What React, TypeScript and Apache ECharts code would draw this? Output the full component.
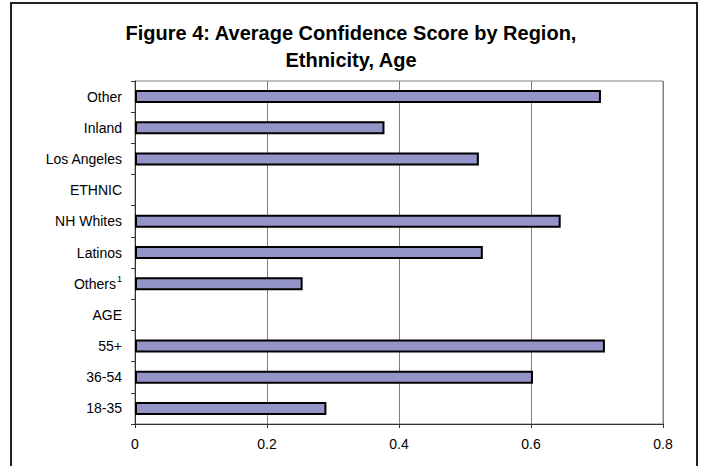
import React, { useEffect, useRef } from "react";
import * as echarts from "echarts";

const categories = [
  "Other",
  "Inland",
  "Los Angeles",
  "ETHNIC",
  "NH Whites",
  "Latinos",
  "Others¹",
  "AGE",
  "55+",
  "36-54",
  "18-35",
];
const values: (number | null)[] = [
  0.706, 0.378, 0.521, null, 0.645, 0.527, 0.254, null, 0.712, 0.603, 0.29,
];
const xTicks = [0, 0.2, 0.4, 0.6, 0.8];
const titleText = "Figure 4: Average Confidence Score by Region,\nEthnicity, Age";

export default function App() {
  const ref = useRef<HTMLDivElement>(null);
  useEffect(() => {
    if (!ref.current) return;
    const chart = echarts.init(ref.current, undefined, { renderer: "svg" });
    const font = "'Liberation Sans', Arial, sans-serif";
    chart.setOption({
      animation: false,
      backgroundColor: "#ffffff",
      textStyle: { fontFamily: font },
      title: {
        text: titleText,
        left: "center",
        top: 14,
        textStyle: {
          fontFamily: font,
          fontSize: 20,
          fontWeight: "bold",
          color: "#000",
          lineHeight: 27,
        },
      },
      graphic: [
        {
          type: "rect",
          shape: { x: 11, y: 3, width: 686, height: 470 },
          style: { fill: "none", stroke: "#222", lineWidth: 2 },
          silent: true,
        },
      ],
      grid: {
        left: 135,
        right: 39,
        top: 81,
        bottom: 42,
        show: true,
        borderColor: "#808080",
        borderWidth: 1,
        backgroundColor: "transparent",
      },
      xAxis: {
        type: "value",
        min: xTicks[0],
        max: xTicks[xTicks.length - 1],
        interval: 0.2,
        axisLine: { show: true, lineStyle: { color: "#333", width: 1 } },
        axisTick: { show: true, length: 4, lineStyle: { color: "#333" } },
        splitLine: { show: true, lineStyle: { color: "#808080", width: 1 } },
        axisLabel: {
          color: "#000",
          fontSize: 14,
          fontFamily: font,
          margin: 13,
          formatter: (v: number) => String(Math.round(v * 10) / 10),
        },
      },
      yAxis: {
        type: "category",
        data: categories,
        inverse: true,
        axisLine: { show: true, lineStyle: { color: "#333", width: 1 } },
        axisTick: { show: true, length: 4, lineStyle: { color: "#333" } },
        axisLabel: {
          color: "#000",
          fontSize: 14,
          fontFamily: font,
          margin: 13,
          formatter: (v: string) =>
            v.endsWith("¹") ? `{a|${v.slice(0, -1)}}{sup|1}` : `{a|${v}}`,
          rich: {
            a: { fontSize: 14, fontFamily: font, color: "#000" },
            sup: {
              fontSize: 9,
              fontFamily: font,
              color: "#000",
              padding: [0, 0, 10, 1],
            },
          },
        },
      },
      series: [
        {
          type: "bar",
          data: values,
          barWidth: 13,
          itemStyle: {
            color: "#9494C8",
            borderColor: "#000",
            borderWidth: 2,
          },
        },
      ],
    });
    return () => chart.dispose();
  }, []);
  return (
    <div
      ref={ref}
      style={{ position: "fixed", left: 0, top: 0, width: 702, height: 466 }}
    />
  );
}
